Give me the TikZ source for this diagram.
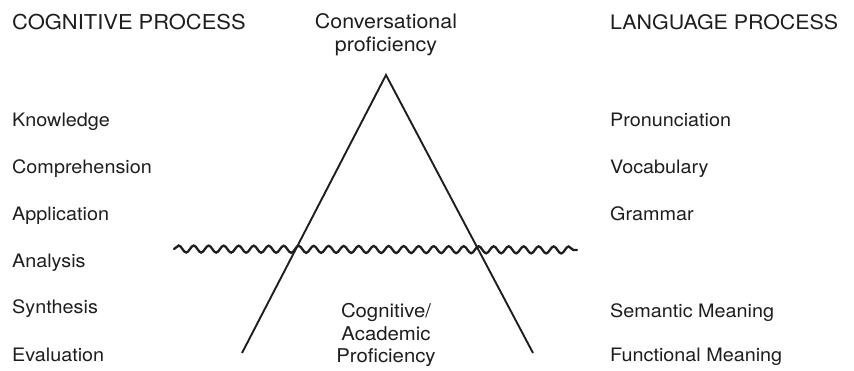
\documentclass[tikz,border=0pt]{standalone}
\usepackage{fontspec}
\setmainfont{TeX Gyre Heros}[FakeStretch=1.07]
\usetikzlibrary{decorations.pathmorphing}
\definecolor{ink}{HTML}{1E1E1E}
\begin{document}
\begin{tikzpicture}[x=1pt,y=-1pt,
  hdr/.style={font=\fontsize{20.5}{22}\selectfont, text=ink, inner sep=0pt, anchor=base west},
  item/.style={font=\fontsize{18.5}{22}\selectfont, text=ink, inner sep=0pt, anchor=base west},
  ctr/.style={font=\fontsize{19}{22}\selectfont, text=ink, inner sep=0pt, anchor=base},
  edgeline/.style={line width=1.9pt, draw=ink},
  waveline/.style={line width=2.3pt, draw=ink, line cap=round, decorate,
    decoration={snake, segment length=15pt, amplitude=3.5pt}}]
\useasboundingbox (0,0) rectangle (854,371);
% headers
\node[hdr] (cog) at (12,29.5) {COGNITIVE PROCESS};
\node[hdr, font=\fontsize{20}{22}\selectfont] (lang) at (610,29.5) {LANGUAGE PROCESS};
\node[ctr, font=\fontsize{20}{22}\selectfont] (conv1) at (386,29) {Conversational};
\node[ctr, font=\fontsize{20}{22}\selectfont] (conv2) at (386,52) {proficiency};
% left list
\node[item] (k) at (12,127) {Knowledge};
\node[item] (c) at (12,174) {Comprehension};
\node[item] (ap) at (12,221) {Application};
\node[item] (an) at (12,268) {Analysis};
\node[item] (s) at (12,314) {Synthesis};
\node[item] (e) at (12,361) {Evaluation};
% right list
\node[item] (p) at (610,127) {Pronunciation};
\node[item] (v) at (610,174) {Vocabulary};
\node[item] (g) at (610,221) {Grammar};
\node[item] (sm) at (610,317) {Semantic Meaning};
\node[item] (fm) at (610,361) {Functional Meaning};
% bottom centre
\node[ctr] (cal1) at (386,318) {Cognitive/};
\node[ctr] (cal2) at (386,340) {Academic};
\node[ctr] (cal3) at (386,362) {Proficiency};
% triangle
\coordinate (apex) at (386,75);
\coordinate (bl) at (242,353);
\coordinate (br) at (533,353);
\draw[edgeline] (bl) -- (apex) -- (br);
% wavy line
\coordinate (wl) at (174,249);
\coordinate (wr) at (577,250);
\draw[waveline] (wl) -- (wr);
\end{tikzpicture}
\end{document}
